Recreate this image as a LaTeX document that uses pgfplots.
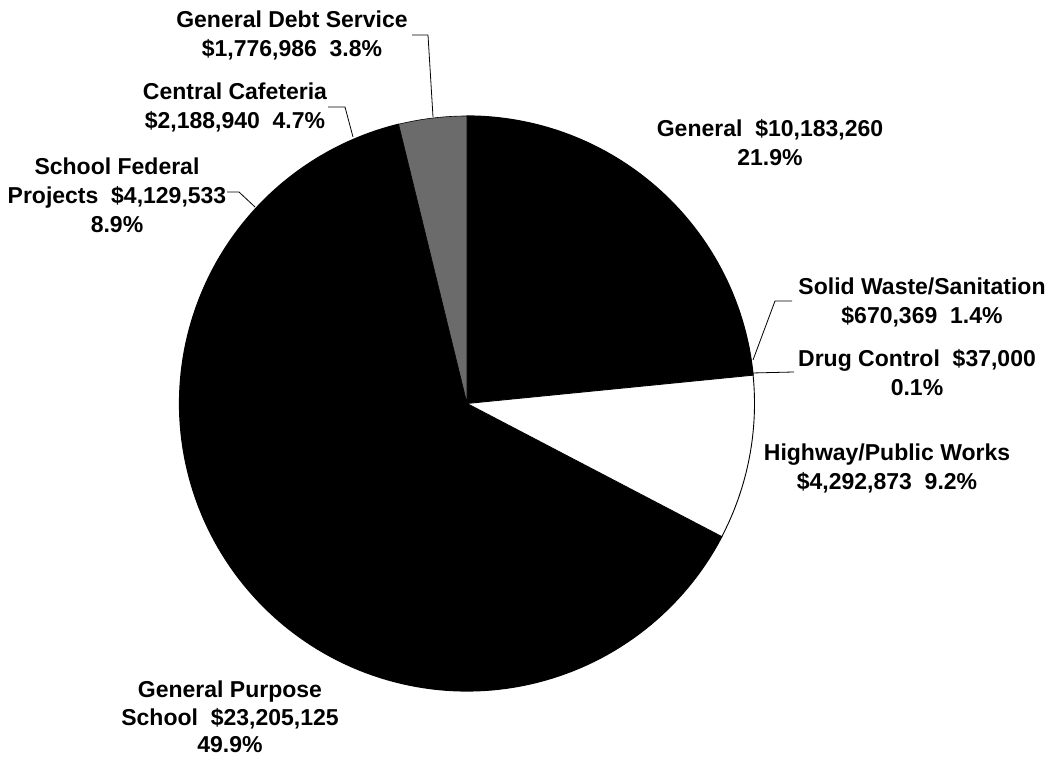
\documentclass[border=0pt]{standalone}
\usepackage{fontspec}
\setmainfont{Liberation Sans}
\usepackage{pgfplots}
\pgfplotsset{compat=1.18}

% Budget by fund (millions of dollars), clockwise from 12 o'clock
\def\vGen{10.183260}
\def\vSW{0.670369}
\def\vDC{0.037000}
\def\vHW{4.292873}
\def\vGPS{23.205125}
\def\vSFP{4.129533}
\def\vCC{2.188940}
\def\vGDS{1.776986}

\pgfmathsetmacro\T{\vGen+\vSW+\vDC+\vHW+\vGPS+\vSFP+\vCC+\vGDS}
\pgfmathsetmacro\aA{90}
\pgfmathsetmacro\aB{\aA-360*\vGen/\T}
\pgfmathsetmacro\aC{\aB-360*\vSW/\T}
\pgfmathsetmacro\aD{\aC-360*\vDC/\T}
\pgfmathsetmacro\aE{\aD-360*\vHW/\T}
\pgfmathsetmacro\aF{\aE-360*\vGPS/\T}
\pgfmathsetmacro\aG{\aF-360*\vSFP/\T}
\pgfmathsetmacro\aH{\aG-360*\vCC/\T}
\pgfmathsetmacro\aI{\aH-360*\vGDS/\T}

\def\cx{467}
\def\cy{355.5}
\def\r{287.5}

\newcommand\slice[3]{%
  \addplot[#1, domain=#2:#3, samples=120, variable=\t]
    ({\cx+\r*cos(\t)},{\cy+\r*sin(\t)}) -- (axis cs:\cx,\cy) -- cycle;}

\tikzset{lab/.style={font=\bfseries\fontsize{23bp}{29bp}\selectfont, align=center, text=black, inner sep=0pt}}

\begin{document}
\begin{tikzpicture}
\begin{axis}[
  scale only axis,
  width=1055bp, height=759bp,
  xmin=0, xmax=1055, ymin=0, ymax=759,
  hide axis, clip=false,
]
\path (rel axis cs:0,0) rectangle (rel axis cs:1,1);

\slice{fill=black, draw=black, line width=1.2bp, line join=round}{\aB}{\aA}
\slice{fill=black, draw=black, line width=1.2bp, line join=round}{\aC}{\aB}
\slice{fill=black, draw=black, line width=1.2bp, line join=round}{\aD}{\aC}
\slice{fill=black, draw=black, line width=1.2bp, line join=round}{\aF}{\aE}
\slice{fill=black, draw=black, line width=1.2bp, line join=round}{\aG}{\aF}
\slice{fill=black, draw=black, line width=1.2bp, line join=round}{\aH}{\aG}
\slice{fill=black!58, draw=black, line width=0.6bp}{\aI}{\aH}
\slice{fill=white, draw=black, line width=0.9bp}{\aE}{\aD}

% leader lines
\draw[line width=0.8bp] (axis cs:412,724) -- (axis cs:428,724) -- (axis cs:433,642);
\draw[line width=0.8bp] (axis cs:328,652) -- (axis cs:345,652) -- (axis cs:353,622);
\draw[line width=0.8bp] (axis cs:227,567) -- (axis cs:239,567) -- (axis cs:255,552);
\draw[line width=0.8bp] (axis cs:792,458) -- (axis cs:775,458) -- (axis cs:753,399);
\draw[line width=0.8bp] (axis cs:794,387) -- (axis cs:752,386);

% labels
\node[lab] at (axis cs:292,724) {General Debt Service\\\$1,776,986\ \ 3.8\%};
\node[lab] at (axis cs:235,652) {Central Cafeteria\\\$2,188,940\ \ 4.7\%};
\node[lab] at (axis cs:117,564) {School Federal\\Projects\ \ \$4,129,533\\8.9\%};
\node[lab] at (axis cs:770,616) {General\ \ \$10,183,260\\21.9\%};
\node[lab] at (axis cs:922,457) {Solid Waste/Sanitation\\\$670,369\ \ 1.4\%};
\node[lab] at (axis cs:917,386) {Drug Control\ \ \$37,000\\0.1\%};
\node[lab] at (axis cs:887,291) {Highway/Public Works\\\$4,292,873\ \ 9.2\%};
\node[lab, font=\bfseries\fontsize{23bp}{27.5bp}\selectfont] at (axis cs:230,42) {General Purpose\\School\ \ \$23,205,125\\49.9\%};
\end{axis}
\end{tikzpicture}
\end{document}
